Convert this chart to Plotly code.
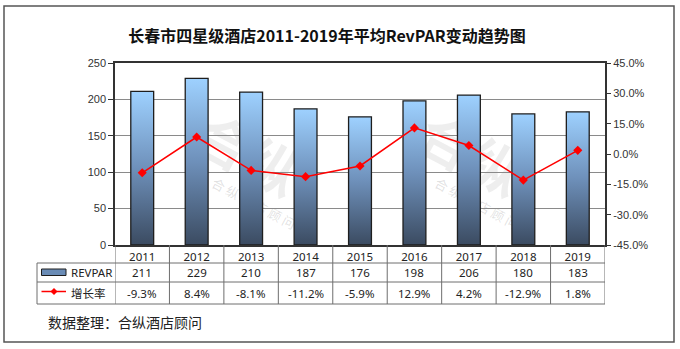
import plotly.graph_objects as go

years = [2011, 2012, 2013, 2014, 2015, 2016, 2017, 2018, 2019]
revpar = [211, 229, 210, 187, 176, 198, 206, 180, 183]
growth = [-9.3, 8.4, -8.1, -11.2, -5.9, 12.9, 4.2, -12.9, 1.8]
growth_labels = ["-9.3%", "8.4%", "-8.1%", "-11.2%", "-5.9%", "12.9%", "4.2%", "-12.9%", "1.8%"]
rate_ticks = [-0.45, -0.30, -0.15, 0.0, 0.15, 0.30, 0.45]
rate_tick_labels = ["-45.0%", "-30.0%", "-15.0%", "0.0%", "15.0%", "30.0%", "45.0%"]
title_text = "长春市四星级酒店2011-2019年平均RevPAR变动趋势图"
source_text = "数据整理：合纵酒店顾问"

W, H = 680, 349
L, R, T, B = 115, 75, 63, 104
PW, PH = W - L - R, H - T - B

def px(x):
    return (x - L) / PW

def py(y):
    return (H - B - y) / PH

TXT = "Noto Sans, Noto Sans CJK SC, sans-serif"
AX = "Liberation Sans, Arial, sans-serif"

fig = go.Figure()

half = 0.21
for yr, v in zip(years, revpar):
    fig.add_trace(go.Scatter(
        x=[yr - half, yr + half, yr + half, yr - half, yr - half],
        y=[0, 0, v, v, 0],
        mode="lines", fill="toself",
        line=dict(color="#1e1e1e", width=1.3),
        fillgradient=dict(type="vertical",
                          colorscale=[[0, "#3b4b61"], [0.5, "#6e90ba"], [1, "#9ed1ff"]],
                          start=0, stop=v),
        showlegend=False, hoverinfo="skip"))

fig.add_trace(go.Scatter(
    x=years, y=[g / 100 for g in growth], yaxis="y2",
    mode="lines+markers",
    line=dict(color="#ff0000", width=1.5),
    marker=dict(symbol="diamond", size=7, color="#ff0000"),
    showlegend=False, hoverinfo="skip"))

shapes = []
# outer border
shapes.append(dict(type="rect", xref="paper", yref="paper",
                   x0=px(4), x1=px(674), y0=py(342), y1=py(6),
                   line=dict(color="#555555", width=1.5), layer="below"))
# faint watermark, below the traces
for wx in [245, 468]:
    shapes.append(dict(type="rect", xref="paper", yref="paper",
                       x0=px(wx - 60), x1=px(wx + 60), y0=py(200), y1=py(120),
                       line=dict(width=0), fillcolor="rgba(0,0,0,0)", layer="below",
                       label=dict(text="<b>合纵</b>", textangle=28, textposition="middle center",
                                  font=dict(family="Noto Sans CJK SC", size=54,
                                            color="rgba(120,120,120,0.13)"))))
    shapes.append(dict(type="rect", xref="paper", yref="paper",
                       x0=px(wx - 52), x1=px(wx + 68), y0=py(235), y1=py(175),
                       line=dict(width=0), fillcolor="rgba(0,0,0,0)", layer="below",
                       label=dict(text="合 纵 酒 店 顾 问", textangle=28, textposition="middle center",
                                  font=dict(family="Noto Sans CJK SC", size=13,
                                            color="rgba(120,120,120,0.22)"))))
# table lines
tl = dict(color="#6e6e6e", width=1)
for b in [y - 0.5 for y in years] + [years[-1] + 0.5]:
    shapes.append(dict(type="line", xref="x", yref="paper", x0=b, x1=b,
                       y0=0, y1=py(304), line=tl))
shapes.append(dict(type="line", xref="paper", yref="paper", x0=px(37), x1=px(37),
                   y0=py(263), y1=py(304), line=tl))
for yy in [263, 282, 304]:
    shapes.append(dict(type="line", xref="paper", yref="paper", x0=px(37), x1=1,
                       y0=py(yy), y1=py(yy), line=tl))
# legend icons
shapes.append(dict(type="rect", xref="paper", yref="paper",
                   x0=px(41.5), x1=px(66), y0=py(275.5), y1=py(269),
                   fillcolor="#6a8cb6", line=dict(color="#1e1e1e", width=1)))
shapes.append(dict(type="line", xref="paper", yref="paper",
                   x0=px(41.5), x1=px(66), y0=py(291.5), y1=py(291.5),
                   line=dict(color="#ff0000", width=1.5)))
cx, cy = px(54), py(291.5)
dx, dy = 3.5 / PW, 3.5 / PH
shapes.append(dict(type="path", xref="paper", yref="paper",
                   path=f"M {cx-dx},{cy} L {cx},{cy+dy} L {cx+dx},{cy} L {cx},{cy-dy} Z",
                   fillcolor="#ff0000", line=dict(color="#ff0000", width=0)))

ann = []
tf = dict(family=TXT, size=11.5, color="#222222")
for yr, v, gl in zip(years, revpar, growth_labels):
    ann.append(dict(x=yr, y=py(272.5), xref="x", yref="paper", text=str(v),
                    showarrow=False, font=tf, xanchor="center", yanchor="middle"))
    ann.append(dict(x=yr, y=py(293), xref="x", yref="paper", text=gl,
                    showarrow=False, font=tf, xanchor="center", yanchor="middle"))
ann.append(dict(x=px(69), y=py(272.5), xref="paper", yref="paper", text="REVPAR",
                showarrow=False, font=tf, xanchor="left", yanchor="middle"))
ann.append(dict(x=px(69), y=py(292.5), xref="paper", yref="paper", text="增长率",
                showarrow=False, font=dict(family="Noto Sans CJK SC", size=11.5, color="#222222"),
                xanchor="left", yanchor="middle"))
ann.append(dict(x=px(46), y=py(322), xref="paper", yref="paper", text=source_text,
                showarrow=False, font=dict(family="Noto Sans CJK SC", size=14, color="#222222"),
                xanchor="left", yanchor="middle"))

fig.update_layout(
    width=W, height=H,
    margin=dict(l=L, r=R, t=T, b=B),
    paper_bgcolor="white", plot_bgcolor="rgba(0,0,0,0)",
    title=dict(text=f"<b>{title_text}</b>", x=327 / W, xref="container", xanchor="center",
               y=1 - 36 / H, yref="container", yanchor="middle",
               font=dict(family="Noto Sans CJK SC", size=16, color="#111111")),
    xaxis=dict(range=[2010.5, 2019.5], tickvals=years, ticktext=[str(y) for y in years],
               showgrid=False, zeroline=False, ticks="",
               showline=True, linecolor="#333333", linewidth=1.5, mirror=True,
               tickfont=dict(family=TXT, size=11.5, color="#222222")),
    yaxis=dict(range=[0, 250], dtick=50, showgrid=True, gridcolor="#8a8a8a", gridwidth=1,
               zeroline=False, ticks="outside", ticklen=5, tickcolor="#333333",
               showline=True, linecolor="#333333", linewidth=1.5, mirror=True,
               tickfont=dict(family=AX, size=11, color="#333333")),
    yaxis2=dict(range=[-0.45, 0.45], tickmode="array", tickvals=rate_ticks,
                ticktext=rate_tick_labels,
                overlaying="y", side="right", showgrid=False, zeroline=False,
                ticks="outside", ticklen=5, tickcolor="#333333", showline=False,
                tickfont=dict(family=AX, size=11, color="#333333")),
    shapes=shapes, annotations=ann,
)

fig.write_html("out.html")
